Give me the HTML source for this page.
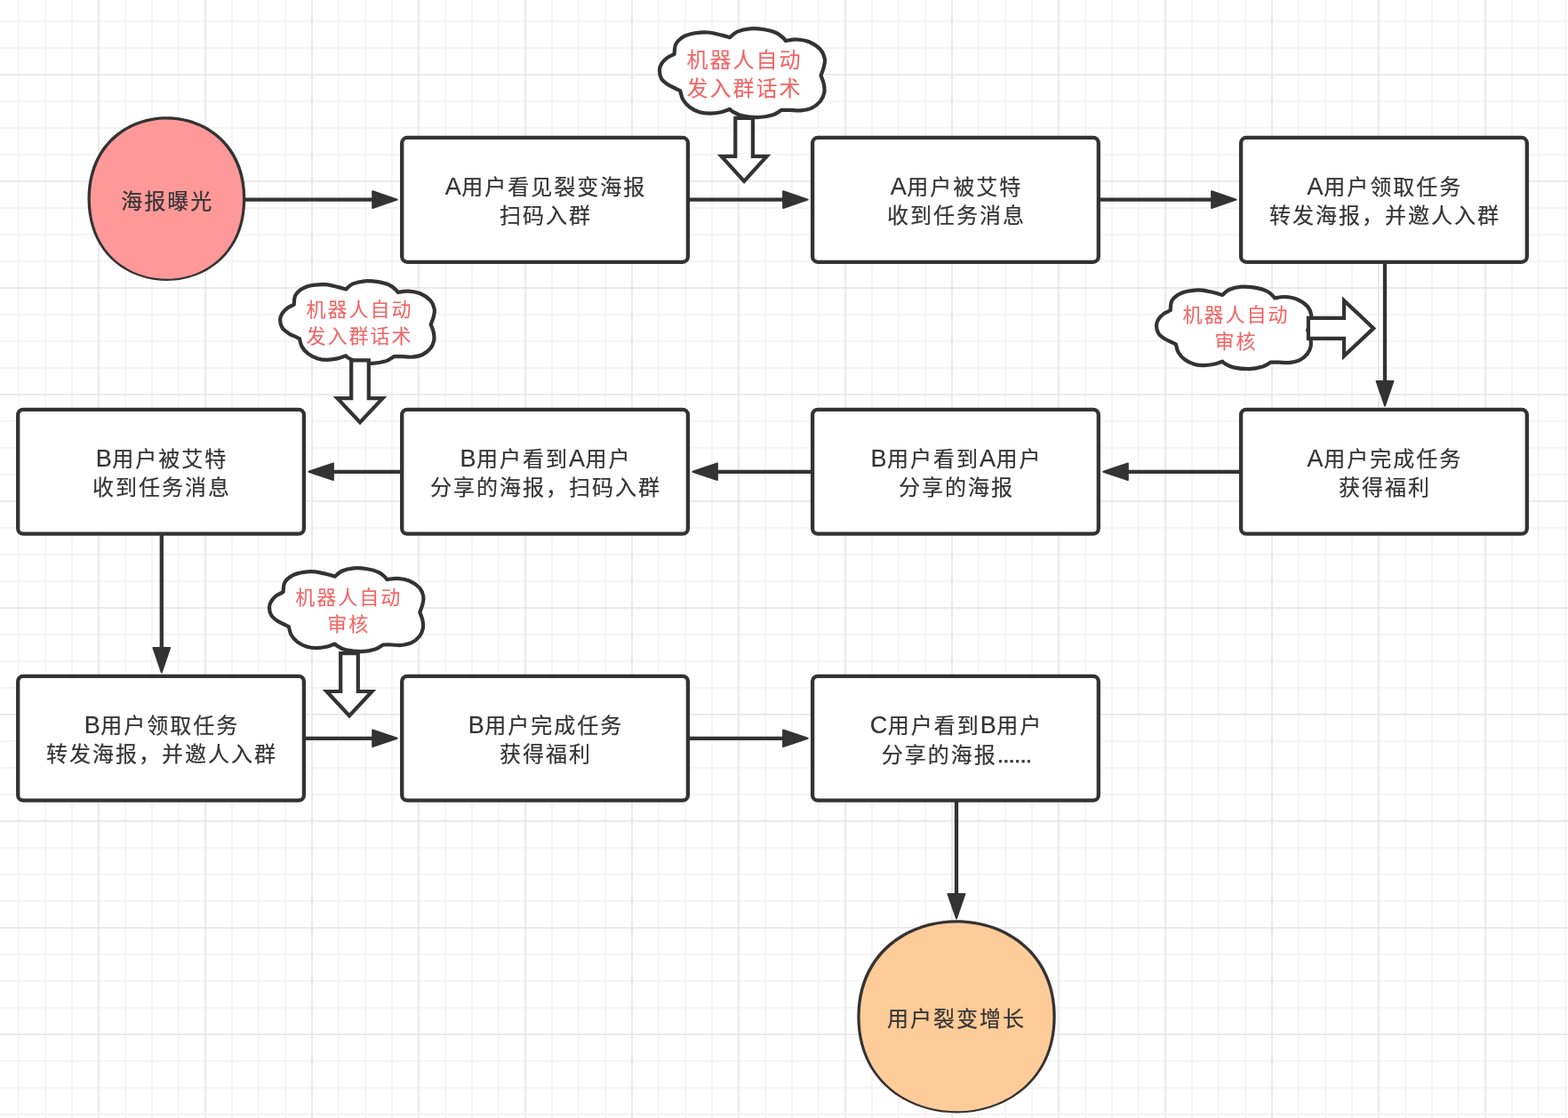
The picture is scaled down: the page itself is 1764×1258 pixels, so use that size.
<!DOCTYPE html>
<html lang="zh-CN">
<head>
<meta charset="utf-8">
<title>用户裂变增长流程图</title>
<style>
html,body{margin:0;padding:0;background:#fff;}
body{width:1764px;height:1258px;overflow:hidden;position:relative;}
#canvas{position:absolute;left:0;top:0;width:1764px;height:1258px;overflow:hidden;background-color:#fff;
background-image:linear-gradient(to right,#eaeaea 2px,transparent 2px),linear-gradient(to bottom,#eaeaea 2px,transparent 2px),linear-gradient(to right,#f5f5f5 2px,transparent 2px),linear-gradient(to bottom,#f5f5f5 2px,transparent 2px);
background-size:120px 120px,120px 120px,30px 30px,30px 30px;
background-position:110px 0,0 83px,20px 0,0 23px;}
#shapes{position:absolute;left:0;top:0;}
#labels{position:absolute;left:0;top:0;width:1764px;height:1258px;will-change:transform;}
.t{position:absolute;white-space:nowrap;text-align:center;color:#333333;font-family:"Liberation Sans","Noto Sans CJK SC",sans-serif;font-size:24px;letter-spacing:2px;font-weight:400;-webkit-text-stroke:0.2px currentColor;line-height:32px;height:32px;transform:translateX(-50%);}
.l{font-size:27px;letter-spacing:0.6px;}
.d{font-size:26px;letter-spacing:-0.8px;-webkit-text-stroke:0.5px currentColor;}
.r{color:#f06666;-webkit-text-stroke:0.1px currentColor;}
.s{font-size:22px;line-height:30px;height:30px;}
</style>
</head>
<body>
<div id="canvas">
<svg id="shapes" width="1764" height="1258" viewBox="0 0 1764 1258">
<g fill="#ffffff" stroke="#333333" stroke-width="4.2" stroke-linejoin="round">
<path d="M758.6 60.9C758.9 58.9 758.6 52.5 760.5 49.2C762.4 45.8 766.3 42.8 770.1 40.7C773.9 38.7 779.0 37.7 783.4 37.0C787.8 36.3 792.2 36.1 796.8 36.5C801.4 36.9 807.0 38.4 811.1 39.4C815.2 40.3 819.4 41.7 821.1 42.2C822.5 41.1 825.7 37.3 829.5 35.6C833.3 34.0 838.7 32.7 843.8 32.3C848.9 31.9 855.2 32.5 860.1 33.3C865.0 34.1 869.9 35.5 873.4 37.0C876.9 38.6 879.3 41.1 881.1 42.6C882.8 44.1 883.4 45.4 883.9 45.9C886.0 45.7 891.8 44.2 896.3 44.5C900.7 44.7 906.1 45.4 910.6 47.3C915.0 49.2 920.1 52.6 923.0 55.8C925.9 58.9 927.2 62.8 927.8 66.1C928.4 69.3 927.5 72.3 926.8 75.4C926.1 78.5 924.0 83.3 923.5 84.9C924.0 86.5 926.2 91.3 926.8 94.5C927.4 97.7 927.9 100.9 927.3 104.1C926.7 107.3 925.3 110.9 923.0 113.8C920.7 116.6 917.1 119.7 913.5 121.4C909.8 123.2 905.2 123.9 901.1 124.3C897.0 124.7 892.4 123.9 888.7 123.8C885.0 123.8 880.7 123.8 879.1 123.8C877.5 124.7 873.9 127.8 869.6 129.2C865.3 130.5 859.3 131.9 853.4 132.0C847.5 132.2 839.2 131.2 834.3 130.1C829.4 129.0 826.0 126.5 823.8 125.3C821.6 124.0 821.5 123.2 821.1 122.8C819.4 123.4 814.8 125.5 811.1 126.3C807.4 127.1 802.7 127.7 798.7 127.7C794.7 127.7 791.0 127.5 787.2 126.3C783.4 125.1 779.0 122.9 775.8 120.5C772.6 118.1 770.0 114.9 768.2 111.8C766.5 108.8 765.8 103.8 765.3 102.2C764.7 101.8 763.7 101.4 761.5 100.3C759.3 99.1 754.8 97.4 751.9 95.5C749.0 93.6 746.0 91.5 744.3 88.8C742.6 86.0 741.9 82.0 741.9 79.1C741.9 76.3 742.9 74.0 744.3 71.7C745.7 69.3 748.1 66.9 750.5 65.1C752.9 63.3 757.2 61.6 758.6 60.9Z"/>
<path d="M330.7 342.8C331.0 341.0 330.7 335.1 332.5 332.0C334.3 328.9 337.9 326.0 341.5 324.2C345.0 322.3 349.7 321.3 353.9 320.7C358.0 320.0 362.1 319.9 366.4 320.2C370.7 320.6 376.0 322.0 379.7 322.9C383.5 323.8 387.5 325.1 389.1 325.5C390.4 324.5 393.4 320.9 396.9 319.4C400.5 317.9 405.5 316.7 410.3 316.3C415.0 316.0 420.9 316.5 425.5 317.2C430.1 318.0 434.7 319.2 437.9 320.7C441.2 322.1 443.5 324.5 445.1 325.9C446.8 327.3 447.3 328.5 447.7 329.0C449.7 328.7 455.2 327.4 459.3 327.6C463.5 327.8 468.5 328.5 472.7 330.3C476.8 332.0 481.6 335.2 484.3 338.1C486.9 341.0 488.1 344.6 488.7 347.6C489.3 350.7 488.5 353.4 487.8 356.3C487.1 359.2 485.2 363.7 484.7 365.1C485.2 366.6 487.2 371.0 487.8 374.0C488.4 377.0 488.9 379.9 488.3 382.9C487.7 385.9 486.4 389.2 484.3 391.9C482.1 394.5 478.8 397.3 475.4 399.0C472.0 400.6 467.7 401.3 463.8 401.7C459.9 402.0 455.6 401.3 452.2 401.2C448.8 401.1 444.7 401.2 443.3 401.2C441.8 402.0 438.4 404.9 434.4 406.2C430.4 407.4 424.7 408.6 419.3 408.8C413.8 408.9 406.0 408.0 401.4 407.0C396.8 406.0 393.7 403.6 391.6 402.5C389.6 401.4 389.5 400.6 389.1 400.3C387.5 400.8 383.2 402.7 379.7 403.4C376.3 404.2 371.9 404.8 368.2 404.8C364.4 404.8 361.0 404.6 357.4 403.4C353.9 402.3 349.7 400.3 346.8 398.1C343.8 395.9 341.3 392.9 339.7 390.1C338.0 387.2 337.4 382.6 337.0 381.1C336.4 380.8 335.5 380.4 333.4 379.3C331.3 378.3 327.1 376.7 324.5 374.9C321.8 373.2 318.9 371.2 317.4 368.7C315.8 366.1 315.1 362.4 315.1 359.8C315.1 357.1 316.0 355.0 317.4 352.8C318.7 350.7 320.9 348.4 323.2 346.7C325.4 345.1 329.5 343.5 330.7 342.8Z"/>
<path d="M1316.7 349.2C1317.0 347.4 1316.6 341.5 1318.4 338.4C1320.2 335.3 1323.9 332.4 1327.4 330.6C1331.0 328.7 1335.7 327.7 1339.9 327.1C1344.1 326.4 1348.1 326.3 1352.4 326.6C1356.8 327.0 1362.0 328.4 1365.8 329.3C1369.6 330.2 1373.6 331.5 1375.2 331.9C1376.5 330.9 1379.5 327.3 1383.1 325.8C1386.6 324.3 1391.7 323.1 1396.5 322.7C1401.2 322.4 1407.1 322.9 1411.7 323.6C1416.3 324.4 1420.9 325.6 1424.2 327.1C1427.5 328.5 1429.8 330.9 1431.4 332.3C1433.0 333.7 1433.6 334.9 1434.0 335.4C1436.0 335.1 1441.5 333.8 1445.6 334.0C1449.8 334.2 1454.9 334.9 1459.0 336.7C1463.2 338.4 1468.0 341.6 1470.6 344.5C1473.3 347.4 1474.5 351.0 1475.1 354.0C1475.7 357.1 1474.9 359.8 1474.2 362.7C1473.5 365.6 1471.6 370.1 1471.1 371.5C1471.6 373.0 1473.6 377.4 1474.2 380.4C1474.8 383.4 1475.3 386.3 1474.7 389.3C1474.1 392.3 1472.8 395.6 1470.6 398.3C1468.5 400.9 1465.2 403.7 1461.7 405.4C1458.3 407.0 1454.0 407.7 1450.1 408.1C1446.3 408.4 1441.9 407.7 1438.5 407.6C1435.1 407.5 1431.0 407.6 1429.5 407.6C1428.0 408.4 1424.6 411.3 1420.6 412.6C1416.6 413.8 1411.0 415.0 1405.4 415.2C1399.9 415.3 1392.2 414.4 1387.6 413.4C1382.9 412.4 1379.8 410.0 1377.7 408.9C1375.7 407.8 1375.6 407.0 1375.2 406.7C1373.6 407.2 1369.3 409.1 1365.8 409.8C1362.3 410.6 1357.9 411.2 1354.2 411.2C1350.5 411.2 1347.0 411.0 1343.4 409.8C1339.9 408.7 1335.7 406.7 1332.8 404.5C1329.8 402.3 1327.3 399.3 1325.7 396.5C1324.0 393.6 1323.4 389.0 1322.9 387.5C1322.3 387.2 1321.5 386.8 1319.4 385.7C1317.3 384.7 1313.1 383.1 1310.4 381.3C1307.7 379.6 1304.8 377.6 1303.3 375.1C1301.7 372.5 1301.0 368.8 1301.0 366.2C1301.0 363.5 1301.9 361.4 1303.3 359.2C1304.6 357.1 1306.8 354.8 1309.1 353.1C1311.3 351.5 1315.4 349.9 1316.7 349.2Z"/>
<path d="M318.6 666.2C318.9 664.4 318.6 658.4 320.4 655.2C322.1 652.1 325.8 649.2 329.3 647.3C332.9 645.4 337.6 644.4 341.7 643.8C345.9 643.1 349.9 642.9 354.2 643.3C358.5 643.7 363.8 645.1 367.5 646.0C371.3 646.9 375.3 648.2 376.9 648.7C378.2 647.6 381.2 644.0 384.7 642.5C388.2 640.9 393.3 639.7 398.0 639.3C402.8 639.0 408.6 639.5 413.2 640.3C417.8 641.0 422.4 642.3 425.6 643.8C428.9 645.2 431.2 647.6 432.8 649.0C434.4 650.4 435.0 651.7 435.4 652.2C437.3 652.0 442.8 650.6 447.0 650.8C451.1 651.0 456.1 651.7 460.3 653.5C464.4 655.2 469.2 658.5 471.9 661.4C474.5 664.4 475.7 668.0 476.3 671.1C476.9 674.2 476.1 677.0 475.4 679.9C474.7 682.9 472.8 687.4 472.3 688.9C472.8 690.4 474.8 694.9 475.4 697.9C476.0 700.9 476.5 703.9 475.9 706.9C475.3 709.9 474.0 713.3 471.9 716.0C469.7 718.7 466.4 721.6 463.0 723.2C459.6 724.9 455.3 725.6 451.4 726.0C447.6 726.4 443.3 725.6 439.9 725.5C436.5 725.4 432.4 725.5 430.9 725.5C429.5 726.3 426.1 729.2 422.1 730.5C418.1 731.8 412.5 733.0 407.0 733.2C401.5 733.3 393.8 732.4 389.2 731.4C384.6 730.3 381.4 728.0 379.4 726.8C377.3 725.7 377.3 724.9 376.9 724.5C375.3 725.1 371.0 727.0 367.5 727.8C364.1 728.5 359.7 729.1 356.0 729.1C352.3 729.1 348.8 728.9 345.3 727.8C341.7 726.7 337.6 724.6 334.6 722.4C331.7 720.1 329.2 717.1 327.5 714.2C325.9 711.3 325.3 706.6 324.8 705.1C324.2 704.8 323.4 704.3 321.3 703.3C319.2 702.3 315.0 700.6 312.3 698.8C309.7 697.0 306.8 695.1 305.3 692.5C303.7 689.9 303.0 686.1 303.0 683.4C303.0 680.7 303.9 678.6 305.3 676.4C306.6 674.2 308.8 671.9 311.0 670.2C313.3 668.5 317.3 666.9 318.6 666.2Z"/>
</g>
<g fill="#ffffff" stroke="#333333" stroke-width="4.2" stroke-linejoin="miter">
<polygon points="827.3,132.9 846.9,132.9 846.9,175.8 862.6,175.8 837.1,203.8 811.6,175.8 827.3,175.8"/>
<polygon points="395.2,405.3 414.8,405.3 414.8,448.2 430.5,448.2 405.0,475.3 379.5,448.2 395.2,448.2"/>
<polygon points="383.2,735.1 402.8,735.1 402.8,778.0 418.5,778.0 393.0,805.5 367.5,778.0 383.2,778.0"/>
<polygon points="1471.9,357.8 1512.0,357.8 1512.0,338.2 1545.2,369.4 1512.0,400.6 1512.0,380.9 1471.9,380.9"/>
</g>
<g stroke="#333333" stroke-width="4.3" fill="#333333" stroke-linejoin="round">
<line x1="275.5" y1="224.6" x2="420.2" y2="224.6"/>
<polygon stroke-width="2" points="446.7,224.6 419.2,234.0 419.2,215.2"/>
<line x1="773.9" y1="224.6" x2="882.1" y2="224.6"/>
<polygon stroke-width="2" points="908.6,224.6 881.1,234.0 881.1,215.2"/>
<line x1="1235.8" y1="224.6" x2="1364.1" y2="224.6"/>
<polygon stroke-width="2" points="1390.6,224.6 1363.1,234.0 1363.1,215.2"/>
<line x1="1558.0" y1="294.8" x2="1558.0" y2="430.0"/>
<polygon stroke-width="2" points="1558.0,456.5 1548.6,429.0 1567.4,429.0"/>
<line x1="1396.1" y1="530.8" x2="1267.8" y2="530.8"/>
<polygon stroke-width="2" points="1241.3,530.8 1268.8,521.4 1268.8,540.1"/>
<line x1="914.1" y1="530.8" x2="805.9" y2="530.8"/>
<polygon stroke-width="2" points="779.4,530.8 806.9,521.4 806.9,540.1"/>
<line x1="452.2" y1="530.8" x2="373.9" y2="530.8"/>
<polygon stroke-width="2" points="347.4,530.8 374.9,521.4 374.9,540.1"/>
<line x1="181.8" y1="600.7" x2="181.8" y2="730.0"/>
<polygon stroke-width="2" points="181.8,756.5 172.4,729.0 191.2,729.0"/>
<line x1="341.9" y1="830.8" x2="420.2" y2="830.8"/>
<polygon stroke-width="2" points="446.7,830.8 419.2,840.1 419.2,821.4"/>
<line x1="773.9" y1="830.8" x2="882.1" y2="830.8"/>
<polygon stroke-width="2" points="908.6,830.8 881.1,840.1 881.1,821.4"/>
<line x1="1076.0" y1="900.7" x2="1076.0" y2="1006.9"/>
<polygon stroke-width="2" points="1076.0,1033.4 1066.5,1005.9 1085.4,1005.9"/>
</g>
<g fill="#ffffff" stroke="#333333" stroke-width="4.3">
<rect x="452.2" y="154.9" width="321.7" height="139.9" rx="6" ry="6"/>
<rect x="914.1" y="154.9" width="321.7" height="139.9" rx="6" ry="6"/>
<rect x="1396.1" y="154.9" width="321.7" height="139.9" rx="6" ry="6"/>
<rect x="1396.1" y="460.8" width="321.7" height="139.9" rx="6" ry="6"/>
<rect x="914.1" y="460.8" width="321.7" height="139.9" rx="6" ry="6"/>
<rect x="452.2" y="460.8" width="321.7" height="139.9" rx="6" ry="6"/>
<rect x="20.2" y="460.8" width="321.7" height="139.9" rx="6" ry="6"/>
<rect x="20.2" y="760.8" width="321.7" height="139.9" rx="6" ry="6"/>
<rect x="452.2" y="760.8" width="321.7" height="139.9" rx="6" ry="6"/>
<rect x="914.1" y="760.8" width="321.7" height="139.9" rx="6" ry="6"/>
</g>
<path d="M98.50 223.55C98.50 100.42 276.30 100.42 276.30 223.55C276.30 346.68 98.50 346.68 98.50 223.55Z" fill="#333333"/>
<path d="M101.80 224.20C101.80 104.73 273.00 104.73 273.00 224.20C273.00 343.67 101.80 343.67 101.80 224.20Z" fill="#ff9999"/>
<path d="M964.30 1143.80C964.30 999.00 1187.70 999.00 1187.70 1143.80C1187.70 1288.60 964.30 1288.60 964.30 1143.80Z" fill="#333333"/>
<path d="M967.60 1144.45C967.60 1003.32 1184.40 1003.32 1184.40 1144.45C1184.40 1285.58 967.60 1285.58 967.60 1144.45Z" fill="#ffcc99"/>
</svg>
<div id="labels">
<div class="t" style="left:614.0px;top:194.3px"><span class="l">A</span>用户看见裂变海报</div>
<div class="t" style="left:614.0px;top:226.8px">扫码入群</div>
<div class="t" style="left:1076.0px;top:194.3px"><span class="l">A</span>用户被艾特</div>
<div class="t" style="left:1076.0px;top:226.8px">收到任务消息</div>
<div class="t" style="left:1557.9px;top:194.3px"><span class="l">A</span>用户领取任务</div>
<div class="t" style="left:1557.9px;top:226.8px">转发海报，并邀人入群</div>
<div class="t" style="left:1557.9px;top:500.2px"><span class="l">A</span>用户完成任务</div>
<div class="t" style="left:1557.9px;top:532.7px">获得福利</div>
<div class="t" style="left:1076.0px;top:500.2px"><span class="l">B</span>用户看到<span class="l">A</span>用户</div>
<div class="t" style="left:1076.0px;top:532.7px">分享的海报</div>
<div class="t" style="left:614.0px;top:500.2px"><span class="l">B</span>用户看到<span class="l">A</span>用户</div>
<div class="t" style="left:614.0px;top:532.7px">分享的海报，扫码入群</div>
<div class="t" style="left:182.0px;top:500.2px"><span class="l">B</span>用户被艾特</div>
<div class="t" style="left:182.0px;top:532.7px">收到任务消息</div>
<div class="t" style="left:182.0px;top:800.2px"><span class="l">B</span>用户领取任务</div>
<div class="t" style="left:182.0px;top:832.7px">转发海报，并邀人入群</div>
<div class="t" style="left:614.0px;top:800.2px"><span class="l">B</span>用户完成任务</div>
<div class="t" style="left:614.0px;top:832.7px">获得福利</div>
<div class="t" style="left:1076.0px;top:800.2px"><span class="l">C</span>用户看到<span class="l">B</span>用户</div>
<div class="t" style="left:1076.0px;top:832.7px">分享的海报<span class="d">......</span></div>
<div class="t" style="left:188.2px;top:210.8px">海报曝光</div>
<div class="t" style="left:1076.0px;top:1130.7px">用户裂变增长</div>
<div class="t r" style="left:837.4px;top:51.6px">机器人自动</div>
<div class="t r" style="left:837.4px;top:83.6px">发入群话术</div>
<div class="t r s" style="left:404.4px;top:334.0px">机器人自动</div>
<div class="t r s" style="left:404.4px;top:364.0px">发入群话术</div>
<div class="t r s" style="left:1390.5px;top:340.4px">机器人自动</div>
<div class="t r s" style="left:1390.5px;top:370.4px">审核</div>
<div class="t r s" style="left:392.2px;top:657.7px">机器人自动</div>
<div class="t r s" style="left:392.2px;top:687.7px">审核</div>
</div>
</div>
</body>
</html>
